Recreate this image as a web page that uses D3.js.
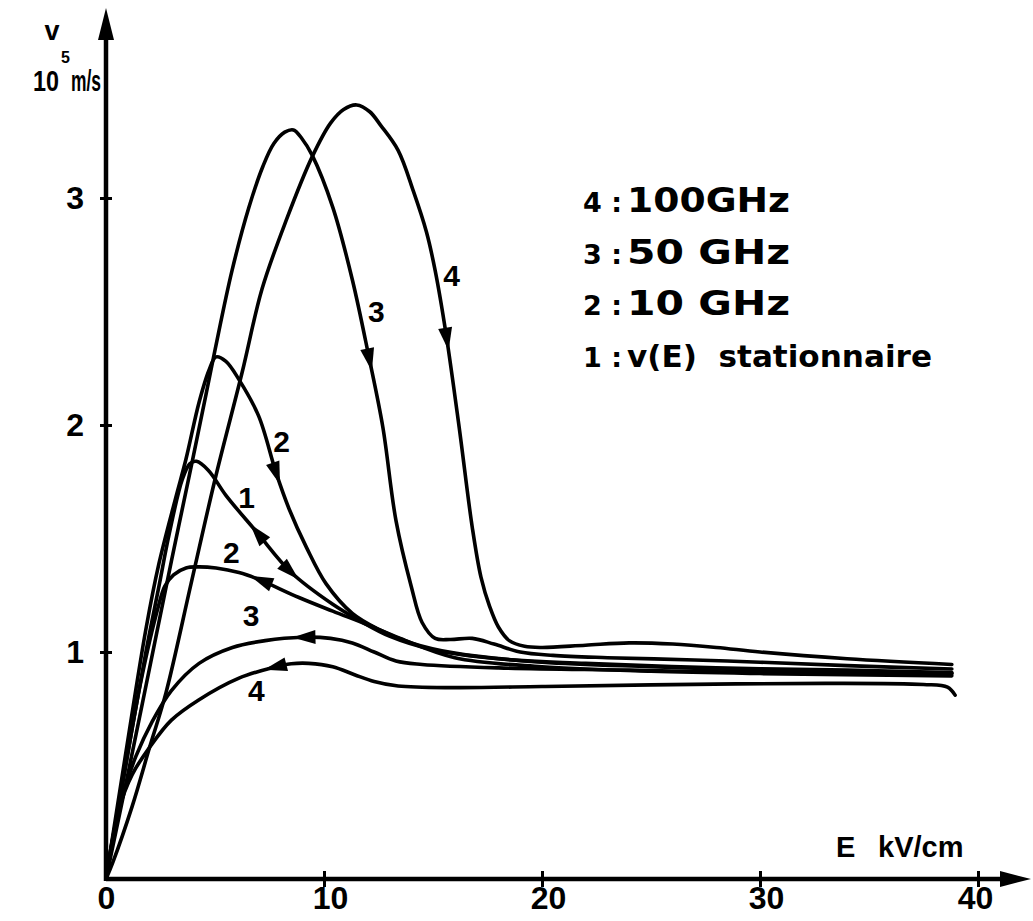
<!DOCTYPE html>
<html>
<head>
<meta charset="utf-8">
<script src="https://cdn.jsdelivr.net/npm/d3@7"></script>
<style>
  body { margin: 0; background: #fff; }
  svg { display: block; }
</style>
</head>
<body>
<svg id="chart" width="1033" height="921"></svg>
<script>
// Drift velocity v (10^5 m/s) versus field E (kV/cm): stationary curve and
// hysteresis loops at 10, 50 and 100 GHz. Each loop is split into the branch
// travelled with rising field (fwd) and the one travelled back (ret).

const eTicks = [0, 10, 20, 30, 40];
const vTicks = [1, 2, 3];

// 1 : stationary v(E)
const curve1 = [[0,0],[0.9,0.50],[1.83,1.0],[2.43,1.29],[2.9,1.52],[3.5,1.76],[3.85,1.83],[4.15,1.84],[4.7,1.80],[5.5,1.69],[6.9,1.53],[8.5,1.35],[10.4,1.21],[11.6,1.14],[13,1.07],[15,1.01],[18,0.97],[22,0.95],[28,0.93],[34,0.92],[38.8,0.91]];

// 2 : 10 GHz
const curve2Fwd = [[0,0],[0.9,0.55],[1.83,1.10],[2.43,1.39],[3.2,1.68],[3.67,1.85],[4.27,2.10],[4.72,2.24],[5.05,2.30],[5.5,2.28],[6.1,2.20],[7.0,2.04],[7.8,1.79],[8.4,1.63],[9.2,1.46],[10.1,1.30],[11.3,1.17],[12.5,1.10],[14,1.04],[16,0.995],[20,0.955],[25,0.935],[30,0.92],[38.8,0.905]];
const curve2Ret = [[38.8,0.895],[30,0.905],[25,0.915],[20,0.935],[16,0.975],[13.5,1.06],[12,1.12],[10.4,1.18],[8.85,1.24],[7.0,1.32],[6.1,1.35],[5.05,1.37],[4.2,1.375],[3.67,1.37],[3.1,1.34],[2.7,1.29],[2.4,1.2],[1.6,0.87],[0.8,0.44],[0,0]];

// 3 : 50 GHz
const curve3Fwd = [[0,0],[1,0.46],[2,0.93],[3,1.40],[4,1.86],[4.6,2.14],[5.0,2.33],[5.78,2.68],[6.56,2.96],[7.2,3.14],[7.7,3.24],[8.2,3.29],[8.6,3.30],[9.0,3.26],[9.45,3.19],[10.4,2.96],[11.3,2.64],[12.06,2.30],[12.7,1.99],[13.3,1.58],[14.0,1.29],[14.5,1.13],[15.1,1.06],[15.8,1.055],[16.8,1.06],[17.8,1.035],[19,1.0],[20.5,0.985],[23,0.975],[27,0.965],[30,0.955],[34,0.94],[38.8,0.925]];
const curve3Ret = [[38.8,0.905],[30,0.91],[24,0.92],[18,0.93],[14.5,0.945],[13.3,0.96],[12.3,1.0],[11.3,1.04],[10.3,1.06],[9.0,1.065],[7.3,1.05],[5.8,1.02],[4.27,0.95],[3.0,0.83],[2.1,0.69],[1.37,0.54],[0.9,0.41],[0.3,0.17],[0,0]];

// 4 : 100 GHz
const curve4Fwd = [[0,0],[0.3,0.07],[1.2,0.32],[2.0,0.58],[2.75,0.82],[3.9,1.30],[5.0,1.76],[6.24,2.23],[7.16,2.60],[8.26,2.90],[9.45,3.18],[10.3,3.33],[10.9,3.39],[11.5,3.41],[12.1,3.38],[12.6,3.32],[13.4,3.21],[14.1,3.03],[14.7,2.85],[15.1,2.68],[15.6,2.40],[16.2,1.99],[16.8,1.55],[17.2,1.33],[17.6,1.20],[18.0,1.11],[18.5,1.05],[19.2,1.025],[20,1.02],[22,1.03],[24,1.04],[26,1.035],[28,1.02],[30,1.0],[34,0.97],[38.8,0.945]];
const curve4Ret = [[38.95,0.81],[38.6,0.845],[37.5,0.857],[33,0.862],[25,0.855],[20,0.848],[16,0.843],[13.4,0.85],[12.3,0.87],[11.4,0.90],[10.4,0.935],[9.3,0.95],[8.5,0.948],[7.6,0.93],[6.1,0.885],[4.27,0.79],[3.0,0.70],[2.0,0.58],[1.2,0.46],[0.6,0.31],[0,0]];

// direction arrows: branch, position (E, v) and sense (+1 = along the branch order)
const arrowBranches = ["curve4Fwd","curve3Fwd","curve2Fwd","curve1","curve1","curve2Ret","curve3Ret","curve4Ret"];
const arrowE        = [15.65, 12.1, 7.85, 6.9, 8.5, 7.1, 9.0, 7.7];
const arrowV        = [2.37, 2.28, 1.78, 1.53, 1.35, 1.33, 1.065, 0.93];
const arrowSense    = [1, 1, 1, -1, 1, 1, 1, 1];

// curve number tags
const tagText = ["4", "3", "2", "1", "2", "3", "4"];
const tagE    = [15.85, 12.4, 8.05, 6.45, 5.75, 6.65, 6.9];
const tagV    = [2.66, 2.50, 1.93, 1.68, 1.44, 1.16, 0.83];

// legend
const legendKeys  = ["4 :", "3 :", "2 :", "1 :"];
const legendNames = ["100GHz", "50 GHz", "10 GHz", "v(E)  stationnaire"];

const branches = { curve1, curve2Fwd, curve2Ret, curve3Fwd, curve3Ret, curve4Fwd, curve4Ret };

const svg = d3.select("#chart");
svg.append("rect").attr("width", 1033).attr("height", 921).attr("fill", "#fff");

const x = d3.scaleLinear().domain([0, 40]).range([106, 978]);
const y = d3.scaleLinear().domain([0, 3]).range([879, 198]);

const ink = "#000";
const numFont = "'Liberation Sans', 'DejaVu Sans', Arial, sans-serif";
const legendFont = "'DejaVu Sans', 'Liberation Sans', sans-serif";

// ---- axes ----
const axes = svg.append("g");
axes.append("line").attr("x1", x(0)).attr("y1", y(0)).attr("x2", 1002).attr("y2", y(0))
  .attr("stroke", ink).attr("stroke-width", 4.5);
axes.append("path").attr("d", `M1000,${y(0)-8} L1031,${y(0)} L1000,${y(0)+8} Z`).attr("fill", ink);
axes.append("line").attr("x1", x(0)).attr("y1", y(0) + 2).attr("x2", x(0)).attr("y2", 36)
  .attr("stroke", ink).attr("stroke-width", 4.5);
axes.append("path").attr("d", `M${x(0)-8},40 L${x(0)},8 L${x(0)+8},40 Z`).attr("fill", ink);

const gx = svg.append("g").attr("transform", `translate(0,${y(0)})`)
  .call(d3.axisBottom(x).tickValues(eTicks).tickFormat(d3.format("d"))
    .tickSizeInner(7).tickSizeOuter(0).tickPadding(4));
gx.select(".domain").remove();
gx.selectAll(".tick line").attr("y1", -8).attr("y2", 8).attr("stroke", ink).attr("stroke-width", 3)
  .attr("display", d => d === 0 ? "none" : null);
gx.selectAll(".tick text").attr("fill", ink).attr("font-size", 32).attr("font-weight", 700)
  .attr("font-family", numFont).attr("y", 7).attr("dy", "0.72em")
  .attr("dx", d => d === 0 ? 0 : (d === 40 ? -3 : 6));

const gy = svg.append("g").attr("transform", `translate(${x(0)},0)`)
  .call(d3.axisLeft(y).tickValues(vTicks).tickFormat(d3.format("d"))
    .tickSizeInner(6).tickSizeOuter(0).tickPadding(16));
gy.select(".domain").remove();
gy.selectAll(".tick line").attr("x1", -6).attr("x2", 6).attr("stroke", ink).attr("stroke-width", 3);
gy.selectAll(".tick text").attr("fill", ink).attr("font-size", 32).attr("font-weight", 700)
  .attr("font-family", numFont);

// axis titles
const title = svg.append("g").attr("font-family", numFont).attr("font-weight", 700).attr("fill", ink);
title.append("text").attr("x", 52).attr("y", 40).attr("text-anchor", "middle")
  .attr("font-size", 27).text("v");
title.append("text").attr("x", 33).attr("y", 91).attr("font-size", 29)
  .attr("textLength", 26).attr("lengthAdjust", "spacingAndGlyphs").text("10");
title.append("text").attr("x", 61).attr("y", 63).attr("font-size", 16).text("5");
title.append("text").attr("x", 71).attr("y", 91).attr("font-size", 29)
  .attr("textLength", 30).attr("lengthAdjust", "spacingAndGlyphs").text("m/s");

title.append("text").attr("x", 836).attr("y", 857).attr("font-size", 29).text("E");
title.append("text").attr("x", 878).attr("y", 857).attr("font-size", 29).text("kV/cm");

// ---- curves ----
const line = d3.line().x(d => x(d[0])).y(d => y(d[1])).curve(d3.curveCatmullRom.alpha(0.5));
const paths = {};
Object.entries(branches).forEach(([name, pts]) => {
  paths[name] = svg.append("path").datum(pts).attr("d", line)
    .attr("fill", "none").attr("stroke", ink).attr("stroke-width", 3.6)
    .attr("stroke-linejoin", "round").attr("stroke-linecap", "round");
});

// ---- direction arrows ----
arrowBranches.forEach((b, i) => {
  const node = paths[b].node();
  const total = node.getTotalLength();
  const tx = x(arrowE[i]), ty = y(arrowV[i]);
  let best = 0, bestD = Infinity;
  for (let l = 0; l <= total; l += 1) {
    const p = node.getPointAtLength(l);
    const d = (p.x - tx) ** 2 + (p.y - ty) ** 2;
    if (d < bestD) { bestD = d; best = l; }
  }
  const p = node.getPointAtLength(best);
  const a = node.getPointAtLength(Math.max(0, best - 4));
  const c = node.getPointAtLength(Math.min(total, best + 4));
  let ux = c.x - a.x, uy = c.y - a.y;
  const n = Math.hypot(ux, uy) || 1;
  ux = ux / n * arrowSense[i]; uy = uy / n * arrowSense[i];
  const px = -uy, py = ux;
  const tip = [p.x + ux * 10, p.y + uy * 10];
  const back = [p.x - ux * 13, p.y - uy * 13];
  svg.append("path")
    .attr("d", `M${tip[0]},${tip[1]} L${back[0] + px * 7},${back[1] + py * 7} L${back[0] - px * 7},${back[1] - py * 7} Z`)
    .attr("fill", ink);
});

// ---- curve tags ----
svg.append("g").selectAll("text").data(tagText).join("text")
  .attr("x", (d, i) => x(tagE[i])).attr("y", (d, i) => y(tagV[i]))
  .attr("text-anchor", "middle").attr("dy", "0.36em")
  .attr("font-family", numFont).attr("font-weight", 700).attr("font-size", 30)
  .attr("fill", ink).text(d => d);

// ---- legend ----
const lg = svg.append("g").attr("font-family", legendFont).attr("font-weight", 700).attr("fill", ink);
legendKeys.forEach((k, i) => {
  const by = 212 + i * 51.5;
  lg.append("text").attr("x", 583).attr("y", by).attr("font-size", 27).text(k);
  lg.append("text").attr("x", 627).attr("y", by).attr("font-size", i < 3 ? 33 : 31)
    .attr("xml:space", "preserve")
    .attr("textLength", i < 3 ? 163 : 305).attr("lengthAdjust", "spacingAndGlyphs")
    .text(legendNames[i]);
});
</script>
</body>
</html>
